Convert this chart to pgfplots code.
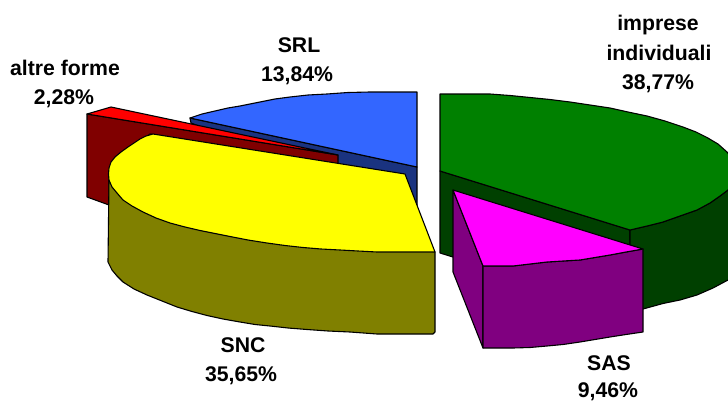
\documentclass[border=0pt]{standalone}
\usepackage{fontspec}
\setmainfont{Liberation Sans}
\usepackage{pgfplots}
\pgfplotsset{compat=1.18}
\definecolor{cblue}{RGB}{51,102,255}
\definecolor{dblue}{RGB}{26,51,128}
\definecolor{cred}{RGB}{255,0,0}
\definecolor{dred}{RGB}{128,0,0}
\definecolor{cyel}{RGB}{255,255,0}
\definecolor{dyel}{RGB}{128,128,0}
\definecolor{cgre}{RGB}{0,128,0}
\definecolor{dgre}{RGB}{0,64,0}
\definecolor{cmag}{RGB}{255,0,255}
\definecolor{dmag}{RGB}{128,0,128}
\begin{document}
\begin{tikzpicture}[x=1bp,y=1bp]
\path[use as bounding box] (0,0) rectangle (728bp,402bp);
\begin{axis}[
  at={(0,0)}, anchor=south west,
  scale only axis, width=728bp, height=402bp,
  xmin=0, xmax=728, ymin=0, ymax=402, y dir=reverse,
  hide axis, clip=true,
  every axis plot/.append style={draw=black, line width=1.1pt, line join=round, mark=none},
]
% SRL
\addplot[fill=dblue] coordinates {(190,118)(191,123)(300,165)(417,240)(417,167)} -- cycle;
\addplot[fill=cblue] coordinates {(417,92)(417,167)(190,118)(202,114)(215,111)(228,108)(240,106)(260,102)(275,99)(290,97)(308,95)(327,94)(348,92.5)(370,92)} -- cycle;
% altre forme
\addplot[fill=dred] coordinates {(87,114)(338,155)(338,164)(150,134)(109,175)(109,205)(87,197)} -- cycle;
\addplot[fill=cred] coordinates {(87,114)(111,107)(338,155)} -- cycle;
% SNC
\addplot[fill=dyel] coordinates {(109,180)(108,262)(110,266)(112,270)(117,276)(123,282)(134,289)(147,295)(162,301)(177,307)(192,311.5)(207,315.5)(223,319)(240,322)(255,324.5)(270,326)(288,328)(307,329.5)(328,331)(350,332)(377,334)(433,334)(435,332)(435,252)} -- cycle;
\addplot[fill=cyel] coordinates {(153,134)(405,174)(435,252)(377,252)(358,251)(340,250)(321,249)(303,247.5)(285,245.5)(267,243)(248,240)(230,236.5)(215,233.5)(200,230.5)(185,227)(170,223)(156,218)(143,212)(132,206)(123,200)(117,193)(112,187)(109,180)(108.5,174)(109,168)(111,162)(115,157)(121,152)(128,147)(134,143)(140,139)(146,136)} -- cycle;
% imprese individuali
\addplot[fill=dgre] coordinates {(440,171)(630,230)(630,312)(440,253)} -- cycle;
\addplot[fill=dgre] coordinates {(630,230)(647,226)(663,222)(680,216)(697,210)(710,203)(720,196)(728,190)(735,186)(735,277)(728,280)(713,288)(697,295)(680,300)(663,303.5)(643,309)(630,312)} -- cycle;
\addplot[fill=cgre] coordinates {(440,94)(465,94)(490,94)(510,95.5)(530,97.5)(550,99.5)(570,102)(590,105)(610,108)(628,112)(647,116)(665,121)(683,127)(696,132)(707,137.5)(718,144)(727,152)(733,160)(736,170)(735,180)(728,190)(720,196)(710,203)(697,210)(680,216)(663,222)(647,226)(630,230)(440,171)} -- cycle;
% SAS
\addplot[fill=dmag] coordinates {(453,190)(483,266)(483,348)(453,272)} -- cycle;
\addplot[fill=dmag] coordinates {(483,266)(513,266)(530,264)(547,262)(563,261)(580,260)(595,257.5)(610,255)(626,252)(643,249)(643,332)(626,334.5)(610,337)(595,339.5)(580,342)(563,344.5)(547,346)(530,347.5)(513,348)(483,348)} -- cycle;
\addplot[fill=cmag] coordinates {(453,190)(643,249)(626,252)(610,255)(595,257.5)(580,260)(563,261)(547,262)(530,264)(513,266)(483,266)} -- cycle;
% labels
\tikzset{lab/.style={font=\fontsize{21.3}{29}\selectfont\bfseries, inner sep=0pt, anchor=base, text=black}}
\node[lab] at (axis cs:658,31) {imprese};
\node[lab] at (axis cs:659,60) {individuali};
\node[lab] at (axis cs:658,89) {38,77\%};
\node[lab] at (axis cs:299,52) {SRL};
\node[lab] at (axis cs:297,81) {13,84\%};
\node[lab] at (axis cs:65,75) {altre forme};
\node[lab] at (axis cs:64,104) {2,28\%};
\node[lab] at (axis cs:243,352) {SNC};
\node[lab] at (axis cs:241,381) {35,65\%};
\node[lab] at (axis cs:609,370) {SAS};
\node[lab] at (axis cs:608,397.5) {9,46\%};
\end{axis}
\end{tikzpicture}
\end{document}
